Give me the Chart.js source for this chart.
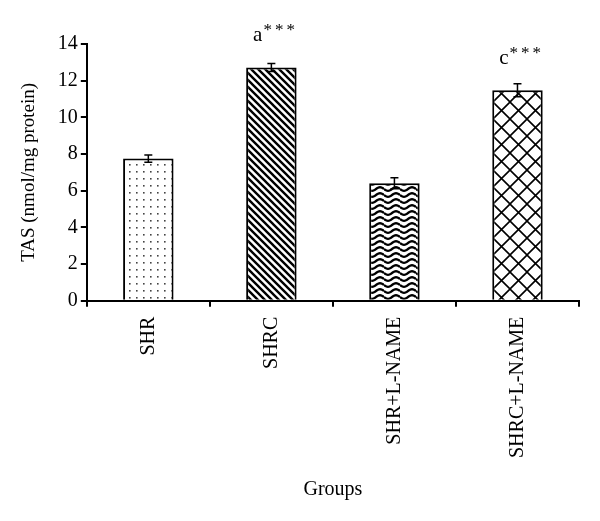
<!DOCTYPE html>
<html>
<head>
<meta charset="utf-8">
<script src="https://cdn.jsdelivr.net/npm/chart.js@4/dist/chart.umd.min.js"></script>
<style>
  body { margin: 0; background: #fff; }
</style>
</head>
<body>
<canvas id="chart" width="600" height="521"></canvas>
<script>
var groups = ["SHR", "SHRC", "SHR+L-NAME", "SHRC+L-NAME"];
var tasValues = [7.75, 12.72, 6.4, 11.48];
var tasErrors = [0.2, 0.22, 0.3, 0.35];
var marks = ["", "a", "", "c"];
var yTicks = [0, 2, 4, 6, 8, 10, 12, 14];

var serif = "'Liberation Serif', 'DejaVu Serif', serif";

function tile(w, h, draw) {
    var c = document.createElement("canvas");
    c.width = w;
    c.height = h;
    var g = c.getContext("2d");
    g.fillStyle = "#fff";
    g.fillRect(0, 0, w, h);
    draw(g, w, h);
    return g.createPattern(c, "repeat");
}

var dots = tile(7, 7, function (g) {
    g.fillStyle = "#444";
    g.fillRect(3, 3, 1.6, 1.6);
});

var stripes = tile(7, 7, function (g, w, h) {
    g.strokeStyle = "#000";
    g.lineWidth = 2.4;
    g.beginPath();
    g.moveTo(-1, -1); g.lineTo(w + 1, h + 1);
    g.moveTo(-2, h - 2); g.lineTo(2, h + 2);
    g.moveTo(w - 2, -2); g.lineTo(w + 2, 2);
    g.stroke();
});

var waves = tile(16, 6, function (g, w, h) {
    g.strokeStyle = "#000";
    g.lineWidth = 2.3;
    g.beginPath();
    for (var x = 0; x <= w; x++) {
        var y = 3 + 1.8 * Math.sin(2 * Math.PI * x / w);
        if (x === 0) g.moveTo(x, y); else g.lineTo(x, y);
    }
    g.stroke();
});

var hatch = tile(17, 17, function (g, w, h) {
    g.strokeStyle = "#000";
    g.lineWidth = 1.6;
    g.beginPath();
    g.moveTo(0, 0); g.lineTo(w, h);
    g.moveTo(w, 0); g.lineTo(0, h);
    g.stroke();
});

var fills = [dots, stripes, waves, hatch];

// error bars and significance letters
var extras = {
    id: "extras",
    afterDatasetsDraw: function (chart) {
        var ctx = chart.ctx;
        var ys = chart.scales.y;
        var bars = chart.getDatasetMeta(0).data;
        ctx.save();
        bars.forEach(function (bar, i) {
            var top = ys.getPixelForValue(tasValues[i] + tasErrors[i]);
            var bot = ys.getPixelForValue(tasValues[i] - tasErrors[i]);
            ctx.strokeStyle = "#000";
            ctx.lineWidth = 1.5;
            ctx.beginPath();
            ctx.moveTo(bar.x, top); ctx.lineTo(bar.x, bot);
            ctx.moveTo(bar.x - 4, top); ctx.lineTo(bar.x + 4, top);
            ctx.moveTo(bar.x - 4, bot); ctx.lineTo(bar.x + 4, bot);
            ctx.stroke();

            if (marks[i]) {
                var base = ys.getPixelForValue(tasValues[i]) - 26;
                ctx.fillStyle = "#000";
                ctx.textBaseline = "alphabetic";
                ctx.textAlign = "right";
                ctx.font = "21px " + serif;
                ctx.fillText(marks[i], bar.x - 9, base);
                ctx.textAlign = "left";
                ctx.font = "17px " + serif;
                ctx.letterSpacing = "3px";
                ctx.fillText("***", bar.x - 8, base - 6);
                ctx.letterSpacing = "0px";
            }
        });
        ctx.restore();
    }
};

new Chart(document.getElementById("chart"), {
    type: "bar",
    data: {
        labels: groups,
        datasets: [{
            data: tasValues,
            backgroundColor: fills,
            borderColor: "#000",
            borderWidth: 2,
            categoryPercentage: 1,
            barPercentage: 0.41
        }]
    },
    options: {
        responsive: false,
        animation: false,
        events: [],
        layout: { padding: { top: 44, right: 21, left: 0, bottom: 0 } },
        plugins: {
            legend: { display: false },
            tooltip: { enabled: false }
        },
        scales: {
            x: {
                border: { color: "#000", width: 2 },
                grid: {
                    offset: true,
                    drawOnChartArea: false,
                    color: "#000",
                    lineWidth: 2,
                    tickLength: 6
                },
                ticks: {
                    color: "#000",
                    font: { family: serif, size: 20 },
                    minRotation: 90,
                    maxRotation: 90,
                    padding: 10
                },
                title: {
                    display: true,
                    text: "Groups",
                    color: "#000",
                    font: { family: serif, size: 20 },
                    padding: { top: 10, bottom: 19 }
                }
            },
            y: {
                min: 0,
                max: 14,
                border: { color: "#000", width: 2 },
                grid: {
                    drawOnChartArea: false,
                    color: "#000",
                    lineWidth: 2,
                    tickLength: 6
                },
                afterBuildTicks: function (scale) {
                    scale.ticks = yTicks.map(function (v) { return { value: v }; });
                },
                ticks: {
                    color: "#000",
                    font: { family: serif, size: 20 },
                    padding: 3
                },
                title: {
                    display: true,
                    text: "TAS (nmol/mg protein)",
                    color: "#000",
                    font: { family: serif, size: 19 },
                    padding: { top: 18, bottom: 14 }
                }
            }
        }
    },
    plugins: [extras]
});
</script>
</body>
</html>
